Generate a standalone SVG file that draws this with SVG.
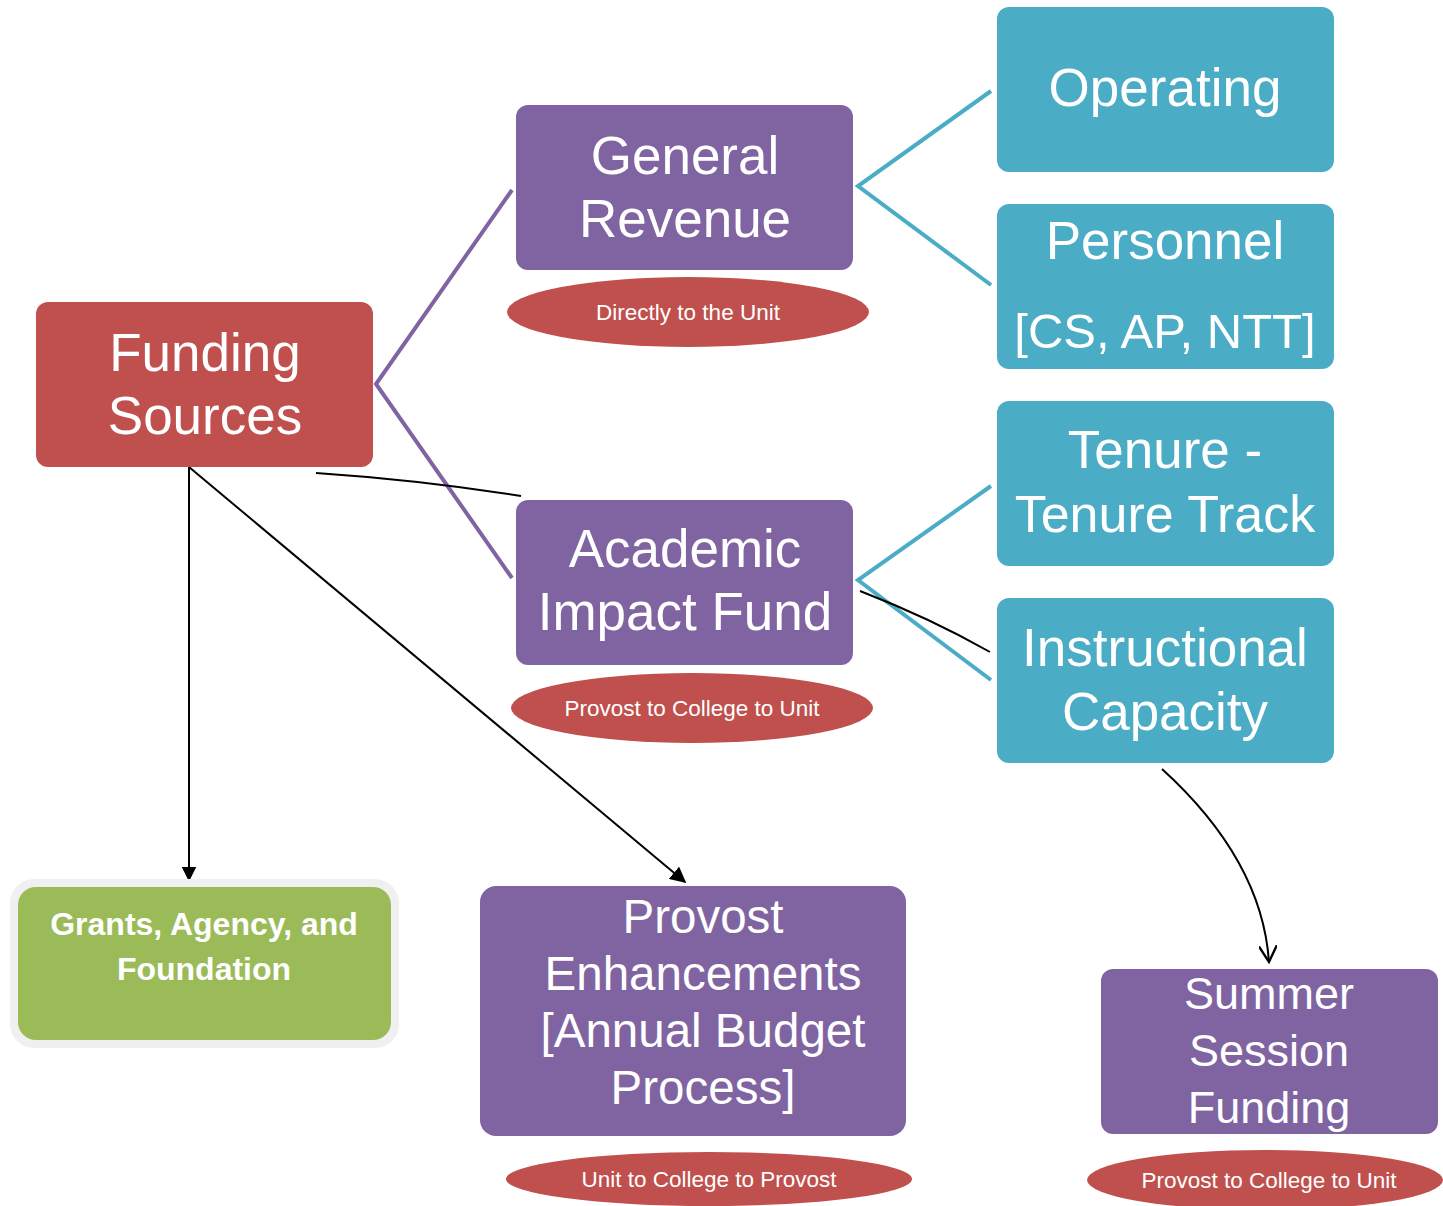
<svg xmlns="http://www.w3.org/2000/svg" width="1443" height="1206" viewBox="0 0 1443 1206">
<style>
.red{fill:#C0504D}
.purple{fill:#8064A2}
.teal{fill:#4BACC6}
.t{font-family:"Liberation Sans",Arial,sans-serif;fill:#fff;text-anchor:middle}
.big{font-size:53px}
.mid{font-size:45px}
.mid2{font-size:47.5px}
.sm{font-size:22.5px}
.bold{font-size:32px;font-weight:bold}
.pl{stroke:#8064A2;stroke-width:4;fill:none}
.tl{stroke:#4BACC6;stroke-width:4;fill:none}
.bl{stroke:#000;stroke-width:2;fill:none}
</style>
<defs>
<marker id="tri" viewBox="0 0 10 10" refX="9" refY="5" markerWidth="15" markerHeight="15" markerUnits="userSpaceOnUse" orient="auto">
<path d="M0,0 L10,5 L0,10 z" fill="#000"/>
</marker>
<marker id="tri2" viewBox="0 0 10 10" refX="9" refY="5" markerWidth="16" markerHeight="16" markerUnits="userSpaceOnUse" orient="auto">
<path d="M0,0 L10,5 L0,10 z" fill="#000"/>
</marker>
<marker id="vee" viewBox="0 0 10 10" refX="9" refY="5" markerWidth="18" markerHeight="18" markerUnits="userSpaceOnUse" orient="auto">
<path d="M0,0 L9,5 L0,10" fill="none" stroke="#000" stroke-width="1.3"/>
</marker>
</defs>
<g id="connectors">
<path class="pl" d="M512,190 L376,384 L512,578"/>
<path class="tl" d="M991,91 L858,186 L991,285"/>
<path class="tl" d="M991,486 L858,580 L991,680"/>
<path class="bl" d="M316,473 Q420,480 521,496"/>
<path class="bl" d="M860,591 Q930,618 990,652"/>
<path class="bl" d="M189,467 L189,880" marker-end="url(#tri)" stroke-width="1.8"/>
<path class="bl" d="M189,467 L685,882" marker-end="url(#tri2)" stroke-width="1.5"/>
<path class="bl" d="M1162,769 Q1262,860 1269,962" marker-end="url(#vee)"/>
</g>
<g id="funding-sources">
<rect class="red" x="36" y="302" width="337" height="165" rx="12"/>
<text class="t big" x="205" y="371">Funding</text>
<text class="t big" x="205" y="434">Sources</text>
</g>
<g id="general-revenue">
<rect class="purple" x="516" y="105" width="337" height="165" rx="12"/>
<text class="t big" x="685" y="174">General</text>
<text class="t big" x="685" y="237">Revenue</text>
</g>
<g id="directly-unit">
<ellipse class="red" cx="688" cy="312" rx="181" ry="35"/>
<text class="t sm" x="688" y="320">Directly to the Unit</text>
</g>
<g id="academic-impact-fund">
<rect class="purple" x="516" y="500" width="337" height="165" rx="12"/>
<text class="t big" x="685" y="567">Academic</text>
<text class="t big" x="685" y="630">Impact Fund</text>
</g>
<g id="provost-college-unit-1">
<ellipse class="red" cx="692" cy="708" rx="181" ry="35"/>
<text class="t sm" x="692" y="716">Provost to College to Unit</text>
</g>
<g id="operating">
<rect class="teal" x="997" y="7" width="337" height="165" rx="12"/>
<text class="t big" x="1165" y="106">Operating</text>
</g>
<g id="personnel">
<rect class="teal" x="997" y="204" width="337" height="165" rx="12"/>
<text class="t big" x="1165" y="259">Personnel</text>
<text class="t" x="1165" y="348" font-size="49">[CS, AP, NTT]</text>
</g>
<g id="tenure">
<rect class="teal" x="997" y="401" width="337" height="165" rx="12"/>
<text class="t big" x="1165" y="468">Tenure -</text>
<text class="t" x="1165" y="532" font-size="52">Tenure Track</text>
</g>
<g id="instructional-capacity">
<rect class="teal" x="997" y="598" width="337" height="165" rx="12"/>
<text class="t big" x="1165" y="666">Instructional</text>
<text class="t big" x="1165" y="730">Capacity</text>
</g>
<g id="grants">
<rect x="10" y="879" width="389" height="169" rx="24" fill="#F0F0F0"/>
<rect x="18" y="887" width="373" height="153" rx="18" fill="#9BBB59"/>
<text class="t bold" x="204" y="935">Grants, Agency, and</text>
<text class="t bold" x="204" y="980">Foundation</text>
</g>
<g id="provost-enhancements">
<rect class="purple" x="480" y="886" width="426" height="250" rx="16"/>
<text class="t mid2" x="703" y="933">Provost</text>
<text class="t mid2" x="703" y="990">Enhancements</text>
<text class="t mid2" x="703" y="1047">[Annual Budget</text>
<text class="t mid2" x="703" y="1104">Process]</text>
</g>
<g id="unit-college-provost">
<ellipse class="red" cx="709" cy="1179" rx="203" ry="27"/>
<text class="t sm" x="709" y="1187">Unit to College to Provost</text>
</g>
<g id="summer-session">
<rect class="purple" x="1101" y="969" width="337" height="165" rx="12"/>
<text class="t mid" x="1269" y="1009">Summer</text>
<text class="t mid" x="1269" y="1066">Session</text>
<text class="t mid" x="1269" y="1123">Funding</text>
</g>
<g id="provost-college-unit-2">
<ellipse class="red" cx="1265" cy="1180" rx="178" ry="30"/>
<text class="t sm" x="1269" y="1188">Provost to College to Unit</text>
</g>
</svg>
